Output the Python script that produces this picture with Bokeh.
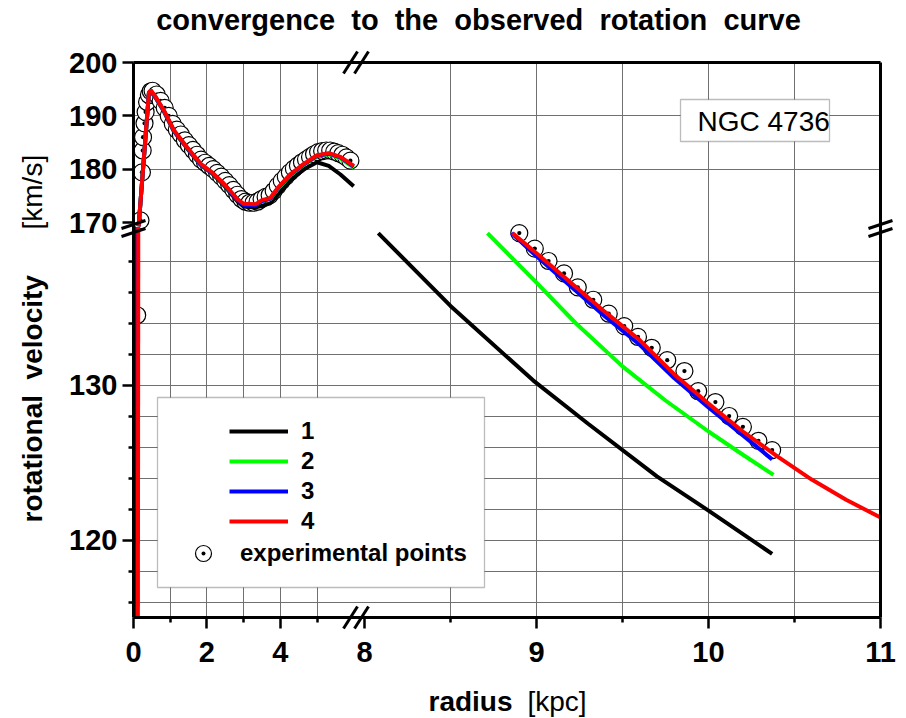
import math
from bokeh.plotting import figure
from bokeh.models import (Range1d, LinearAxis, FixedTicker, CustomJSTickFormatter,
                          Legend, LegendItem, Label, BoxAnnotation)
from bokeh.core.properties import value
from bokeh.embed import file_html
from bokeh.resources import INLINE

# ---------------- data ----------------
# inner part of the curves (r in kpc, v in km/s), upper window 170-200
r1_up = [0.14, 0.42, 0.47, 0.60, 0.83, 1.10, 1.46, 1.83, 2.14, 2.46, 2.83, 3.00, 3.32, 3.73, 4.28, 4.64, 5.00, 5.32, 5.64, 6.00]
v1_up = [169.3, 194.2, 194.6, 193.4, 190.8, 187.1, 183.9, 180.8, 179.2, 177.0, 174.0, 173.0, 172.8, 173.6, 177.9, 180.0, 181.3, 180.6, 179.0, 176.8]
r2_up = [0.14, 0.42, 0.47, 0.60, 0.83, 1.10, 1.46, 1.83, 2.14, 2.46, 2.83, 3.00, 3.32, 3.50, 3.73, 3.92, 4.28, 4.64, 5.00, 5.32, 5.64, 6.00]
v2_up = [169.3, 194.3, 194.7, 193.5, 190.9, 187.2, 184.0, 180.9, 179.3, 177.2, 174.3, 173.4, 173.3, 174.0, 174.4, 176.2, 178.9, 180.8, 182.4, 182.8, 182.0, 180.3]
r3_up = [0.14, 0.42, 0.47, 0.60, 0.83, 1.10, 1.46, 1.83, 2.14, 2.46, 2.83, 3.00, 3.32, 3.50, 3.73, 3.92, 4.28, 4.64, 5.00, 5.32, 5.64, 6.00]
v3_up = [169.3, 194.3, 194.7, 193.5, 190.9, 187.2, 184.0, 180.9, 179.3, 177.2, 174.3, 173.3, 173.2, 174.0, 174.5, 176.3, 179.0, 180.9, 182.5, 182.9, 182.2, 180.5]
r4_up = [0.14, 0.42, 0.47, 0.60, 0.83, 1.10, 1.46, 1.83, 2.14, 2.46, 2.83, 3.00, 3.32, 3.50, 3.73, 3.92, 4.28, 4.64, 5.00, 5.32, 5.64, 6.00]
v4_up = [169.3, 194.4, 194.8, 193.6, 191.0, 187.3, 184.1, 181.0, 179.4, 177.3, 174.4, 173.5, 173.4, 174.2, 174.6, 176.4, 179.1, 181.0, 182.6, 183.0, 182.3, 180.6]

# steep inner rise through the lower window 115-140
r1_rise = [0.03, 0.04]
r2_rise = [0.06, 0.07]
r3_rise = [0.085, 0.095]
r4_rise = [0.12, 0.13]
v_rise = [115.0, 140.2]

# outer part of the curves, lower window 115-140
r1_out = [8.08, 8.50, 8.98, 9.30, 9.70, 10.00, 10.37]
v1_out = [139.8, 135.1, 130.3, 127.5, 124.1, 121.9, 119.1]
r2_out = [8.715, 9.00, 9.227, 9.50, 9.75, 10.00, 10.20, 10.378]
v2_out = [139.8, 136.6, 134.0, 131.2, 129.0, 127.0, 125.5, 124.2]
r3_out = [8.855, 9.00, 9.20, 9.40, 9.60, 9.80, 10.00, 10.20, 10.37]
v3_out = [139.8, 138.3, 136.35, 134.4, 132.6, 130.45, 128.55, 126.75, 125.2]
r4_out = [8.86, 9.00, 9.20, 9.40, 9.60, 9.80, 10.00, 10.20, 10.40, 10.60, 10.80, 11.00]
v4_out = [139.8, 138.5, 136.6, 134.7, 132.9, 130.7, 128.8, 127.0, 125.4, 123.9, 122.6, 121.45]

# experimental points
r_obs_up = [0.19, 0.23, 0.25, 0.26, 0.30, 0.33, 0.37, 0.42, 0.47, 0.52, 0.63, 0.74, 0.85, 0.96, 1.07,
            1.18, 1.29, 1.40, 1.51, 1.62, 1.73, 1.84, 1.95, 2.06, 2.17, 2.28, 2.39, 2.50, 2.61, 2.72,
            2.83, 2.94, 3.05, 3.16, 3.27, 3.38, 3.49, 3.60, 3.71, 3.82, 3.93, 4.04, 4.15, 4.26, 4.37,
            4.48, 4.59, 4.70, 4.81, 4.92, 5.03, 5.14, 5.25, 5.36, 5.47, 5.58, 5.69, 5.80, 5.91]
v_obs_up = [170.4, 179.4, 183.5, 186.0, 188.6, 190.7, 192.6, 193.9, 194.6, 194.7, 194.0, 192.8, 191.5, 190.0, 188.5,
            187.4, 186.5, 185.4, 184.5, 183.6, 182.7, 181.8, 181.2, 180.6, 180.0, 179.3, 178.6, 177.8, 177.0, 176.1,
            175.2, 174.4, 173.9, 173.7, 173.7, 173.9, 174.4, 174.8, 175.1, 175.9, 176.9, 177.8, 178.6, 179.4, 180.1,
            180.7, 181.3, 181.8, 182.3, 182.8, 183.2, 183.4, 183.5, 183.5, 183.3, 183.0, 182.7, 182.2, 181.6]
r_obs_low = [0.10]
v_obs_low = [134.5]
r_obs_out = [8.90, 8.99, 9.07, 9.16, 9.24, 9.33, 9.42, 9.51, 9.59, 9.67, 9.76, 9.86, 9.94, 10.04, 10.12, 10.20, 10.29, 10.37]
v_obs_out = [139.8, 138.8, 138.0, 137.2, 136.3, 135.5, 134.6, 133.8, 133.1, 132.4, 131.6, 130.9, 129.6, 128.9, 128.0, 127.3, 126.4, 125.8]

x_major_in = [0, 2, 4]
x_minor_in = [1, 3, 5]
x_major_out = [8, 9, 10, 11]
x_minor_out = [8.5, 9.5, 10.5]
y_major_low = [120, 130]
y_minor_low = [116, 118, 122, 124, 126, 128, 132, 134, 136, 138]
y_major_up = [170, 180, 190, 200]

labels = ["1", "2", "3", "4"]
colors = ["#000000", "#00ff00", "#0000ff", "#ff0000"]

TITLE = "convergence  to  the  observed  rotation  curve"
YLABEL_BOLD, YLABEL_UNIT = "rotational  velocity", "[km/s]"
XLABEL_BOLD, XLABEL_UNIT = "radius", "[kpc]"
TAG = "NGC 4736"


def keep_spaces(s):   # SVG collapses runs of spaces; keep the double spacing visible
    return s.replace("  ", " \u00a0")


# ---------------- broken-axis geometry ----------------
FL, FR, FT, FB = 133, 880, 62, 617          # frame edges in the picture
FW, FH = FR - FL, FB - FT
K_IN, K_OUT = 36.7, 172.0                   # px per kpc (inner / outer part)
K_UP, K_LO = 160.0 / 30.0, 15.5             # px per km/s (upper / lower part)
X0_OUT = 8 - (364 - FL) / K_OUT
Y0_UP = 200 - FH / K_UP
X_BREAK = 6.1                               # in inner units
Y_BREAK = 140.3                             # in lower units


def u_of_out(r):   # outer radius -> inner axis units
    return (r - X0_OUT) * K_OUT / K_IN


def w_of_up(v):    # upper velocity -> lower axis units
    return 115 + (FH - (200 - v) * K_UP) / K_LO


def px_u(px):      # picture pixel -> inner units (for decorations and texts)
    return (px - FL) / K_IN


def py_w(py):      # picture pixel -> lower units (for decorations and texts)
    return 115 + (FB - py) / K_LO


FONT = "Liberation Sans"

p = figure(frame_width=FW, frame_height=FH, min_border_left=FL, min_border_right=906 - FR,
           min_border_top=FT, min_border_bottom=718 - FB,
           x_range=Range1d(0, FW / K_IN), y_range=Range1d(115, 115 + FH / K_LO),
           output_backend="svg", toolbar_location=None, tools="")
p.extra_x_ranges = {"outer": Range1d(X0_OUT, 11)}
p.extra_y_ranges = {"upper": Range1d(Y0_UP, 200)}
p.outline_line_color = None
p.background_fill_color = "white"
p.border_fill_color = "white"

# ---------------- axes ----------------
xax = p.xaxis[0]
xax.ticker = FixedTicker(ticks=x_major_in + [u_of_out(r) for r in x_major_out],
                         minor_ticks=x_minor_in + [u_of_out(r) for r in x_minor_out])
xax.formatter = CustomJSTickFormatter(args=dict(xb=X_BREAK, x0=X0_OUT, kin=K_IN, kout=K_OUT), code="""
    if (tick < xb) { return Math.round(tick).toString(); }
    return Math.round(x0 + tick * kin / kout).toString();
""")
yax = p.yaxis[0]
yax.ticker = FixedTicker(ticks=y_major_low + [w_of_up(v) for v in y_major_up],
                         minor_ticks=y_minor_low)
yax.formatter = CustomJSTickFormatter(args=dict(yb=Y_BREAK, fh=FH, klo=K_LO, kup=K_UP), code="""
    if (tick < yb) { return Math.round(tick).toString(); }
    const py = fh - (tick - 115) * klo;
    return Math.round(200 - py / kup).toString();
""")
for ax in (xax, yax):
    ax.axis_line_width = 3
    ax.axis_line_color = "black"
    ax.major_tick_line_width = 2.5
    ax.minor_tick_line_width = 2.5
    ax.major_tick_line_color = "black"
    ax.minor_tick_line_color = "black"
    ax.major_tick_in = 0
    ax.major_tick_out = 11
    ax.minor_tick_in = 0
    ax.minor_tick_out = 5
    ax.major_label_text_font = FONT
    ax.major_label_text_font_size = "29px"
    ax.major_label_text_font_style = "bold"
    ax.major_label_text_color = "black"
xax.major_label_standoff = 13
yax.major_label_standoff = 5

for side in ("above", "right"):
    ax = LinearAxis(ticker=FixedTicker(ticks=[]), axis_line_width=3, axis_line_color="black",
                    major_tick_line_color=None, minor_tick_line_color=None,
                    major_label_text_font_size="0px")
    p.add_layout(ax, side)

# ---------------- grid ----------------
p.xgrid.ticker = FixedTicker(ticks=x_minor_in + [2, 4] + [u_of_out(r) for r in [8.5, 9, 9.5, 10, 10.5]])
p.ygrid.ticker = FixedTicker(ticks=y_minor_low + y_major_low + [w_of_up(v) for v in [180, 190]])
for g in (p.xgrid, p.ygrid):
    g.grid_line_color = "#707070"
    g.grid_line_width = 1

# ---------------- data marks ----------------
obs_kw = dict(marker="circle_dot", size=17, fill_color="white", line_color="black", line_width=1.2)
p.scatter(r_obs_up, v_obs_up, y_range_name="upper", **obs_kw)
p.scatter(r_obs_low, v_obs_low, **obs_kw)
pts_out = p.scatter(r_obs_out, v_obs_out, x_range_name="outer", **obs_kw)

ups = [(r1_up, v1_up), (r2_up, v2_up), (r3_up, v3_up), (r4_up, v4_up)]
rises = [r1_rise, r2_rise, r3_rise, r4_rise]
outs = [(r1_out, v1_out), (r2_out, v2_out), (r3_out, v3_out), (r4_out, v4_out)]
out_renderers = []
for (ru, vu), rr, (ro, vo), c in zip(ups, rises, outs, colors):
    p.line(ru, vu, y_range_name="upper", line_color=c, line_width=4)
    p.line(rr, v_rise, line_color=c, line_width=4)
    out_renderers.append(p.line(ro, vo, x_range_name="outer", line_color=c, line_width=4))

# ---------------- break marks ----------------
def brk(xs0, ys0, xs1, ys1):
    p.segment(x0=xs0, y0=ys0, x1=xs1, y1=ys1, line_color="black", line_width=3, level="overlay")

for cx in (350, 361):
    for cy in (FT, FB):
        brk([px_u(cx - 7)], [py_w(cy + 11)], [px_u(cx + 7)], [py_w(cy - 11)])
for cy in (224, 232):
    for cx in (FL, FR):
        brk([px_u(cx - 12)], [py_w(cy + 4)], [px_u(cx + 12)], [py_w(cy - 4)])

# ---------------- legend ----------------
p.add_layout(BoxAnnotation(left=px_u(157), right=px_u(484), top=py_w(397), bottom=py_w(587),
                           fill_color="white", fill_alpha=1, line_color="#222222", line_width=1.3))
leg_kw = dict(padding=0, margin=0, spacing=0, border_line_color=None, background_fill_alpha=0,
              label_text_font=FONT, label_text_font_size="24px", label_text_font_style="bold",
              label_text_color="black")
legA = Legend(items=[LegendItem(label=l, renderers=[r]) for l, r in zip(labels, out_renderers)],
              location=(96, 81), glyph_width=59, glyph_height=30, label_height=30,
              label_standoff=13, **leg_kw)
legB = Legend(items=[LegendItem(label="experimental points", renderers=[pts_out])],
              location=(50, 44), glyph_width=40, glyph_height=40, label_height=40,
              label_standoff=17, **leg_kw)
p.add_layout(legA)
p.add_layout(legB)

# ---------------- texts ----------------
p.add_layout(BoxAnnotation(left=px_u(680), right=px_u(829), top=py_w(99), bottom=py_w(141),
                           fill_color="white", fill_alpha=1, line_color="#222222", line_width=1.3))
p.add_layout(Label(x=px_u(697), y=py_w(121), text=TAG, text_font=FONT, text_color="black",
                   text_font_size="28px", text_align="left", text_baseline="alphabetic"))

txt_kw = dict(text_font=value(FONT), text_color="black", text_font_size="28px",
              text_baseline="alphabetic", level="overlay")
p.text(x=[px_u(478)], y=[py_w(19)], text=[keep_spaces(TITLE)], text_align="center",
       text_font_style="bold", **{**txt_kw, "text_font_size": "29px"})
p.text(x=[px_u(32)], y=[py_w(522)], text=[keep_spaces(YLABEL_BOLD)], angle=math.pi / 2,
       text_align="left", text_font_style="bold", **txt_kw)
p.text(x=[px_u(32)], y=[py_w(229)], text=[YLABEL_UNIT], angle=math.pi / 2, text_align="left",
       text_font_style="normal", **txt_kw)
p.text(x=[px_u(428)], y=[py_w(701)], text=[XLABEL_BOLD], text_align="left",
       text_font_style="bold", **txt_kw)
p.text(x=[px_u(527)], y=[py_w(701)], text=[XLABEL_UNIT], text_align="left",
       text_font_style="normal", **txt_kw)

open("out.html", "w").write(file_html(p, INLINE))
